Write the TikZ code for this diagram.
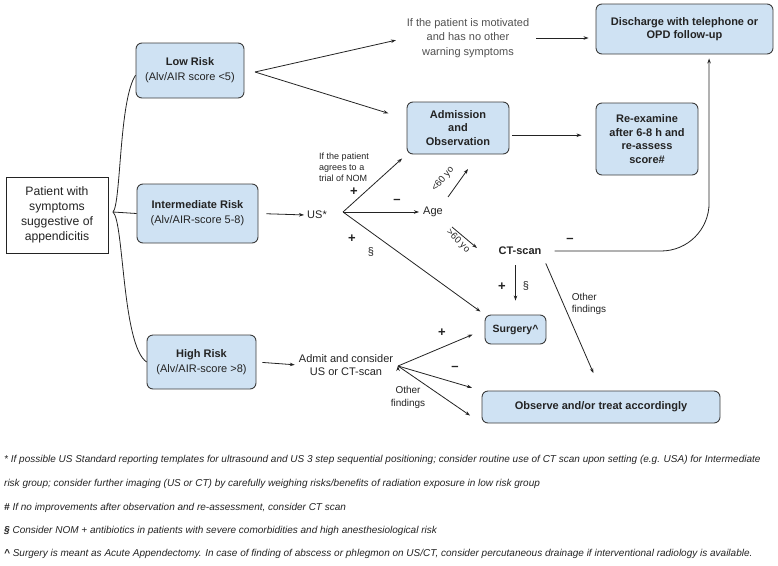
\documentclass[tikz,border=0pt]{standalone}
\usepackage{fontspec}
\setmainfont{Liberation Sans}
\usepackage{tikz}
\usetikzlibrary{arrows.meta,calc}
\definecolor{boxblue}{RGB}{207,226,243}
\definecolor{boxline}{RGB}{60,60,60}
\definecolor{txtdark}{RGB}{35,35,35}
\definecolor{txtgray}{RGB}{80,80,80}

\begin{document}
\begin{tikzpicture}[x=1pt,y=-1pt,>={Stealth[length=5pt,width=3.5pt]},
  bluebox/.style={shape=rectangle,rounded corners=6pt,draw=boxline,fill=boxblue,line width=0.9pt,
    inner sep=0pt,align=center,text=txtdark,font=\fontsize{11}{13.5}\selectfont\bfseries},
  riskbox/.style={bluebox,font=\fontsize{11}{15}\selectfont},
  plain/.style={align=center,inner sep=1pt,text=txtdark,font=\fontsize{11}{13}\selectfont},
  small/.style={align=left,inner sep=1pt,text=txtdark,font=\fontsize{9}{11}\selectfont},
  sign/.style={inner sep=0pt,text=txtdark,font=\fontsize{13}{13}\selectfont\bfseries},
  note/.style={anchor=west,inner sep=0pt,text=txtdark,font=\fontsize{10}{11}\selectfont\itshape},
  link/.style={draw=txtdark,line width=0.8pt}]
\useasboundingbox (0,0) rectangle (778,565);

\node(pat) at (57,215)[shape=rectangle,draw=txtdark,line width=0.9pt,minimum width=102,minimum height=76,inner sep=0pt,align=center,font=\fontsize{12.2}{15}\selectfont,text=txtdark] {Patient with\\symptoms\\suggestive of\\appendicitis};
\node(low) at (190,70.5)[riskbox,minimum width=108,minimum height=55] {\textbf{Low Risk}\\\mdseries(Alv/AIR score <5)};
\node(int) at (197.5,213.5)[riskbox,minimum width=121,minimum height=59] {\textbf{Intermediate Risk}\\\mdseries(Alv/AIR-score 5-8)};
\node(high) at (201.5,362)[riskbox,minimum width=109,minimum height=54] {\textbf{High Risk}\\\mdseries(Alv/AIR-score >8)};
\node(dis) at (684.5,29)[bluebox,minimum width=177,minimum height=50] {Discharge with telephone or\\OPD follow-up};
\node(adm) at (458,128)[bluebox,minimum width=102,minimum height=52] {Admission\\and\\Observation};
\node(re) at (647,139)[bluebox,minimum width=102,minimum height=72] {Re-examine\\after 6-8 h and\\re-assess\\score\#};
\node(surg) at (515.5,329.5)[bluebox,minimum width=61,minimum height=29,font=\fontsize{10.5}{12}\selectfont\bfseries] {Surgery\textasciicircum};
\node(obs) at (601,407)[bluebox,minimum width=238,minimum height=32] {Observe and/or treat accordingly};

\node(mot) at (468,38)[plain,text=txtgray,font=\fontsize{11}{14.5}\selectfont] {If the patient is motivated\\and has no other\\warning symptoms};
\node(us) at (317,215)[plain] {US*};
\node(age) at (433,212)[plain] {Age};
\node(ct) at (520,251)[plain,font=\fontsize{11}{13}\selectfont\bfseries] {CT-scan};
\node(admit) at (346,365)[plain] {Admit and consider\\US or CT-scan};
\node(nom) at (344,167)[small] {If the patient\\agrees to a\\trial of NOM};
\node(oth1) at (589,304)[small,font=\fontsize{10}{12}\selectfont] {Other\\findings};
\node(oth2) at (408,397)[small,align=center,font=\fontsize{10}{13}\selectfont] {Other\\findings};
\node(lt60) at (443,179)[plain,rotate=50,inner sep=0pt,font=\fontsize{9.5}{10}\selectfont] {<60 yo};
\node(gt60) at (458,241)[plain,rotate=-45,inner sep=0pt,font=\fontsize{9.5}{10}\selectfont] {>60 yo};

% signs on the branches
\node(p1) at (354,192)[sign] {+};
\node(m1) at (397,201)[sign] {–};
\node(p2) at (352,239)[sign] {+};
\node(s1) at (371,252)[plain] {§};
\node(m2) at (570,240)[sign] {–};
\node(p3) at (502,287)[sign] {+};
\node(s2) at (526,286)[plain] {§};
\node(p4) at (442,333)[sign] {+};
\node(m3) at (455,368)[sign] {–};

% forks and the little age arrows
\coordinate(brace) at (113,212);
\coordinate(lowfork) at (255,72);
\coordinate(usfork) at (343,212);
\coordinate(hifork) at (398,366);
\coordinate(lt60a) at (448,197);
\coordinate(lt60b) at (468,169);
\coordinate(gt60a) at (452,227);
\coordinate(gt60b) at (477,248);

\draw[link] (brace) .. controls (121,204) and (119,100) .. (low.185);
\draw[link] (brace) -- (int.west);
\draw[link] (brace) .. controls (124,222) and (122,345) .. (high.west);

\path [->,link]
  (lowfork)       edge [shorten >=10pt]                (mot.west)
  (lowfork)       edge [shorten >=19pt]                (adm.170)
  (mot.east)      edge [shorten <=6pt,shorten >=7pt]   (mot.east -| dis.west)
  (adm.-8)        edge [shorten <=3pt,shorten >=14pt]  (adm.-8 -| re.west)
  (int.east)      edge [shorten <=8pt,shorten >=2pt]   (us.west)
  (usfork)        edge [shorten >=6pt]                 (adm.south west)
  (usfork)        edge [shorten >=3pt]                 (age.west)
  (usfork)        edge [shorten >=5pt]                 (surg.north west)
  (lt60a)         edge                                 (lt60b)
  (gt60a)         edge                                 (gt60b)
  (surg.north |- ct.south) edge [shorten <=9pt,shorten >=14pt] (surg.north)
  (ct.south east) edge [shorten <=8pt,shorten >=19pt]  (obs.north)
  (high.east)     edge [shorten <=6pt,shorten >=3pt]   (admit.west)
  (hifork)        edge [shorten >=13pt]                (surg.west)
  (hifork)        edge [shorten >=10pt]                (obs.north west)
  (hifork)        edge [shorten >=14pt]                (obs.south west);

\draw[->,link,rounded corners=48pt,shorten <=12pt,shorten >=4pt] (ct.east) -| (dis.-46);

% footnotes
\node(fn1) at (4,460)[note] {* If possible US Standard reporting templates for ultrasound and US 3 step sequential positioning; consider routine use of CT scan upon setting (e.g. USA) for Intermediate};
\node(fn2) at (4,484)[note] {risk group; consider further imaging (US or CT) by carefully weighing risks/benefits of radiation exposure in low risk group};
\node(fn3) at (4,508)[note] {\textbf{\#} If no improvements after observation and re-assessment, consider CT scan};
\node(fn4) at (4,531)[note] {\textbf{§} Consider NOM + antibiotics in patients with severe comorbidities and high anesthesiological risk};
\node(fn5) at (4,554)[note] {\textbf{\textasciicircum} Surgery is meant as Acute Appendectomy. In case of finding of abscess or phlegmon on US/CT, consider percutaneous drainage if interventional radiology is available.};
\end{tikzpicture}
\end{document}
